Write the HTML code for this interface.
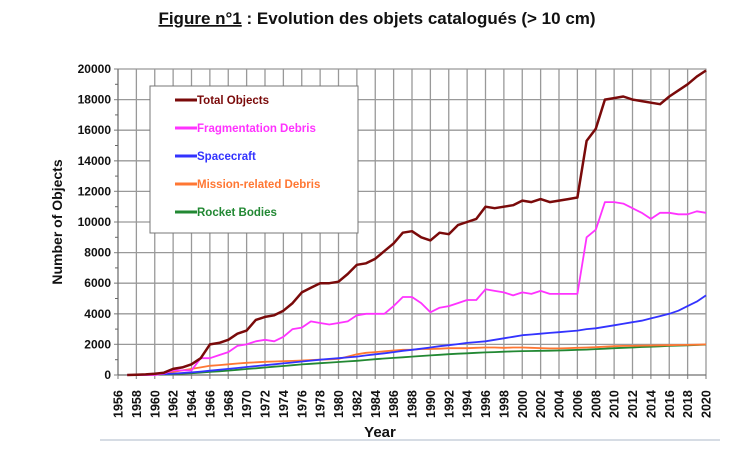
<!DOCTYPE html>
<html><head><meta charset="utf-8"><style>
body{margin:0;background:#fff;width:754px;height:457px;overflow:hidden;font-family:"Liberation Sans",sans-serif}
</style></head><body>
<svg width="754" height="457" xmlns="http://www.w3.org/2000/svg">
<text x="377" y="24" text-anchor="middle" font-size="17" font-weight="bold" font-family="Liberation Sans Narrow, Liberation Sans, sans-serif" fill="#111"><tspan text-decoration="underline">Figure n°1</tspan> : Evolution des objets catalogués (&gt; 10 cm)</text>
<g id="grid"></g>
<g id="axes"></g>
<g id="series"></g>
<g id="legend"></g>
<text x="380" y="437" text-anchor="middle" font-size="15" font-weight="bold" fill="#111">Year</text>
<text transform="translate(62,222) rotate(-90)" text-anchor="middle" font-size="14" font-weight="bold" fill="#111">Number of Objects</text>
<line x1="100" y1="440" x2="720" y2="440" stroke="#c8d0dc" stroke-width="1.5"/>
</svg>
<script>
const years = [1957,1958,1959,1960,1961,1962,1963,1964,1965,1966,1967,1968,1969,1970,1971,1972,1973,1974,1975,1976,1977,1978,1979,1980,1981,1982,1983,1984,1985,1986,1987,1988,1989,1990,1991,1992,1993,1994,1995,1996,1997,1998,1999,2000,2001,2002,2003,2004,2005,2006,2007,2008,2009,2010,2011,2012,2013,2014,2015,2016,2017,2018,2019,2020];
const totalObjects = [0,20,40,80,150,400,500,700,1100,2000,2100,2300,2700,2900,3600,3800,3900,4200,4700,5400,5700,6000,6000,6100,6600,7200,7300,7600,8100,8600,9300,9400,9000,8800,9300,9200,9800,10000,10200,11000,10900,11000,11100,11400,11300,11500,11300,11400,11500,11600,15300,16100,18000,18100,18200,18000,17900,17800,17700,18200,18600,19000,19500,19900];
const fragmentation = [0,0,0,0,100,300,300,300,1100,1100,1300,1500,1900,2000,2200,2300,2200,2500,3000,3100,3500,3400,3300,3400,3500,3900,4000,4000,4000,4500,5100,5100,4700,4100,4400,4500,4700,4900,4900,5600,5500,5400,5200,5400,5300,5500,5300,5300,5300,5300,9000,9500,11300,11300,11200,10900,10600,10200,10600,10600,10500,10500,10700,10600];
const spacecraft = [0,10,20,40,60,90,130,170,220,280,340,400,460,520,580,640,700,760,820,880,940,1000,1050,1100,1150,1200,1280,1350,1420,1500,1580,1650,1720,1800,1880,1950,2020,2100,2150,2200,2300,2400,2500,2600,2650,2700,2750,2800,2850,2900,3000,3050,3150,3250,3350,3450,3550,3700,3850,4000,4200,4500,4800,5200];
const missionDebris = [0,10,30,60,100,200,300,400,500,600,650,700,750,800,830,860,880,900,920,950,980,1000,1020,1050,1200,1350,1450,1500,1550,1600,1650,1650,1700,1700,1720,1750,1750,1750,1780,1800,1800,1780,1800,1800,1780,1760,1740,1740,1760,1780,1800,1820,1850,1880,1900,1900,1920,1930,1940,1950,1960,1970,1980,2000];
const rocketBodies = [0,5,10,20,40,60,90,120,160,200,240,290,340,390,440,490,540,590,640,690,730,770,810,850,890,930,980,1030,1080,1120,1160,1200,1240,1280,1320,1360,1390,1420,1450,1480,1500,1520,1540,1560,1570,1580,1590,1600,1620,1640,1660,1690,1720,1750,1780,1800,1830,1850,1870,1900,1920,1940,1960,1990];
const xTicks = [];for(let y=1956;y<=2020;y+=2)xTicks.push(y);
const yTicks = [0,2000,4000,6000,8000,10000,12000,14000,16000,18000,20000];
const seriesNames = ["Total Objects","Fragmentation Debris","Spacecraft","Mission-related Debris","Rocket Bodies"];
const seriesColors = ["#7a0a0a","#ff33ff","#3333ff","#ff7733","#228833"];
const seriesData = [totalObjects,fragmentation,spacecraft,missionDebris,rocketBodies];

const NS="http://www.w3.org/2000/svg";
const X0=118,X1=706,Y0=375,Y1=69;
const sx=v=>X0+(v-1956)*(X1-X0)/64;
const sy=v=>Y0-(v)*(Y0-Y1)/20000;
function mk(tag,attrs,parent){const e=document.createElementNS(NS,tag);for(const k in attrs)e.setAttribute(k,attrs[k]);document.getElementById(parent).appendChild(e);return e;}

mk('rect',{x:X0,y:Y1,width:X1-X0,height:Y0-Y1,fill:'#fff',stroke:'#888'},'grid');
xTicks.forEach(t=>{
  const l=mk('line',{x1:sx(t),y1:Y1,x2:sx(t),y2:Y0+4,stroke:'#999','stroke-width':1.3},'grid');
  
  
  const tx=mk('text',{transform:`translate(${sx(t)+4.5},${Y0+43}) rotate(-90)`,'font-size':12.5,'font-weight':'bold',fill:'#111'},'axes');
  tx.textContent=t;
  
  
});
yTicks.forEach(t=>{
  const l=mk('line',{x1:X0-4,y1:sy(t),x2:X1,y2:sy(t),stroke:'#999','stroke-width':1.3},'grid');
  
  
  if(t<20000){mk('line',{x1:X0-3,y1:sy(t+1000),x2:X0,y2:sy(t+1000),stroke:'#666'},'grid');}
  const tx=mk('text',{x:X0-7,y:sy(t)+4,'text-anchor':'end','font-size':12,'font-weight':'bold',fill:'#111'},'axes');
  tx.textContent=t;
  
  
});
mk('line',{x1:X0,y1:Y1,x2:X0,y2:Y0,stroke:'#666'},'axes');
mk('line',{x1:X0,y1:Y0,x2:X1,y2:Y0,stroke:'#666'},'axes');

for(let i=seriesData.length-1;i>=0;i--){
  const d=seriesData[i].map((v,j)=>`${sx(years[j]).toFixed(1)},${sy(v).toFixed(1)}`).join(' ');
  const p=mk('polyline',{points:d,fill:'none',stroke:seriesColors[i],'stroke-width':i==0?2.5:1.8,'stroke-linejoin':'round'},'series');
  
  
}
const lb=mk('rect',{x:150,y:86,width:208,height:147,fill:'#fff',stroke:'#777'},'legend');


seriesNames.forEach((n,i)=>{
  const y=100+i*28;
  mk('line',{x1:175,y1:y,x2:197,y2:y,stroke:seriesColors[i],'stroke-width':3},'legend');
  const t=mk('text',{x:197,y:y+4,'font-size':11.5,'font-weight':'bold',fill:seriesColors[i]},'legend');
  t.textContent=n;
  
  
});
</script>
</body></html>
